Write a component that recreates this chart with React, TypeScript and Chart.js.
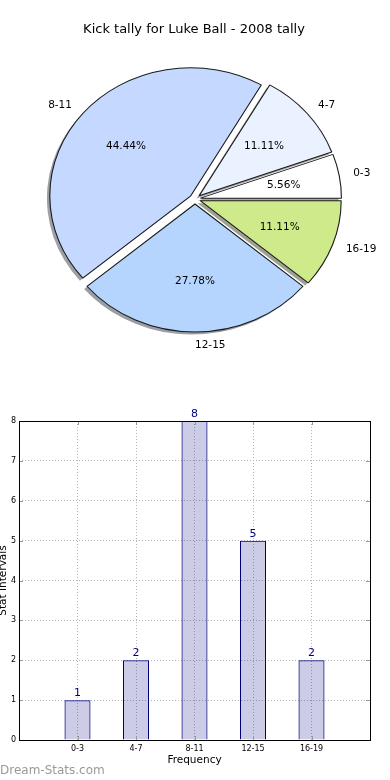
import React, { useEffect, useRef } from 'react';
import { Chart, registerables } from 'chart.js';

Chart.register(...registerables);

const TITLE = 'Kick tally for Luke Ball - 2008 tally';
const categories = ['0-3', '4-7', '8-11', '12-15', '16-19'];
const counts = [1, 2, 8, 5, 2];
const percentLabels = ['5.56%', '11.11%', '44.44%', '27.78%', '11.11%'];
const sliceColors = ['#ffffff', '#eaf1ff', '#c5d8ff', '#b5d5ff', '#cfea8b'];
const X_TITLE = 'Frequency';
const Y_TITLE = 'Stat Intervals';
const WATERMARK = 'Dream-Stats.com';
const Y_MIN = 0;
const Y_MAX = 8;

const FONT = "'DejaVu Sans', sans-serif";
const SX = 141 / 128;
const EXPLODE = 5;
const SHADOW = 2.6;

Chart.defaults.font.family = FONT;

function hexToRgb(h: string) {
  const n = parseInt(h.slice(1), 16);
  return { r: (n >> 16) & 255, g: (n >> 8) & 255, b: n & 255 };
}

function PieChart() {
  const ref = useRef<HTMLCanvasElement>(null);
  useEffect(() => {
    const order = categories.map((_, i) => categories.length - 1 - i);
    const plugin: any = {
      id: 'ellipsePie',
      afterDatasetsUpdate(chart: any) {
        chart.getDatasetMeta(0).data.forEach((el: any) => {
          const mid = (el.startAngle + el.endAngle) / 2;
          el.x += Math.cos(mid) * EXPLODE;
          el.y += Math.sin(mid) * EXPLODE;
        });
      },
      beforeDatasetsDraw(chart: any) {
        const ctx = chart.ctx;
        const a = chart.chartArea;
        const ox = (a.left + a.right) / 2;
        const oy = (a.top + a.bottom) / 2;
        ctx.save();
        ctx.translate(ox, oy);
        ctx.scale(SX, 1);
        ctx.translate(-ox, -oy);
        chart.getDatasetMeta(0).data.forEach((el: any, j: number) => {
          const c = hexToRgb(sliceColors[order[j]]);
          ctx.fillStyle = `rgba(${Math.round(c.r * 0.3)},${Math.round(c.g * 0.3)},${Math.round(c.b * 0.3)},0.5)`;
          ctx.beginPath();
          ctx.moveTo(el.x - SHADOW, el.y + SHADOW);
          ctx.arc(el.x - SHADOW, el.y + SHADOW, el.outerRadius, el.startAngle, el.endAngle);
          ctx.closePath();
          ctx.fill();
        });
      },
      afterDatasetsDraw(chart: any) {
        chart.ctx.restore();
      },
      afterDraw(chart: any) {
        const ctx = chart.ctx;
        const a = chart.chartArea;
        const ox = (a.left + a.right) / 2;
        ctx.save();
        ctx.fillStyle = '#000';
        ctx.font = `13px ${FONT}`;
        ctx.textAlign = 'center';
        ctx.textBaseline = 'middle';
        ctx.fillText(TITLE, 194, 30);
        ctx.font = `10.5px ${FONT}`;
        chart.getDatasetMeta(0).data.forEach((el: any, j: number) => {
          const idx = order[j];
          const mid = (el.startAngle + el.endAngle) / 2;
          const r = el.outerRadius;
          const cs = Math.cos(mid);
          const sn = Math.sin(mid);
          const lx = ox + (el.x + 1.1 * r * cs - ox) * SX;
          const ly = el.y + 1.1 * r * sn;
          ctx.textAlign = cs > 0 ? 'left' : 'right';
          ctx.fillText(categories[idx], lx, ly);
          const px = ox + (el.x + 0.6 * r * cs - ox) * SX;
          const py = el.y + 0.6 * r * sn;
          ctx.textAlign = 'center';
          ctx.fillText(percentLabels[idx], px, py);
        });
        ctx.restore();
      },
    };
    const chart = new Chart(ref.current as HTMLCanvasElement, {
      type: 'pie',
      data: {
        labels: order.map((i) => categories[i]),
        datasets: [
          {
            data: order.map((i) => counts[i]),
            backgroundColor: order.map((i) => sliceColors[i]),
            borderColor: '#1a1a1a',
            borderWidth: 1,
          },
        ],
      },
      options: {
        animation: false,
        responsive: false,
        rotation: 90,
        radius: 128,
        layout: { padding: { top: 60, bottom: 42, left: 0, right: 0 } },
        plugins: { legend: { display: false }, tooltip: { enabled: false }, title: { display: false } },
      } as any,
      plugins: [plugin],
    });
    return () => chart.destroy();
  }, []);
  return <canvas ref={ref} width={390} height={380} style={{ display: 'block', width: 390, height: 380 }} />;
}

function BarChart() {
  const ref = useRef<HTMLCanvasElement>(null);
  useEffect(() => {
    const labels = ['', ...categories, ''];
    const data = [null, ...counts, null];
    const plugin: any = {
      id: 'barDecor',
      afterDraw(chart: any) {
        const ctx = chart.ctx;
        const a = chart.chartArea;
        const xs = chart.scales.x;
        const ys = chart.scales.y;
        ctx.save();
        // inner tick marks
        ctx.strokeStyle = '#999';
        ctx.lineWidth = 1;
        ctx.beginPath();
        for (let v = Y_MIN + 1; v < Y_MAX; v++) {
          const y = Math.round(ys.getPixelForValue(v)) + 0.5;
          ctx.moveTo(a.left, y);
          ctx.lineTo(a.left + 4, y);
          ctx.moveTo(a.right, y);
          ctx.lineTo(a.right - 4, y);
        }
        for (let i = 1; i <= categories.length; i++) {
          const x = Math.round(xs.getPixelForValue(i)) + 0.5;
          ctx.moveTo(x, a.bottom);
          ctx.lineTo(x, a.bottom - 4);
          ctx.moveTo(x, a.top);
          ctx.lineTo(x, a.top + 4);
        }
        ctx.stroke();
        // frame
        ctx.strokeStyle = '#000';
        ctx.strokeRect(Math.round(a.left) + 0.5, Math.round(a.top) + 0.5, Math.round(a.right - a.left), Math.round(a.bottom - a.top));
        // value labels
        ctx.fillStyle = '#000080';
        ctx.font = `11px ${FONT}`;
        ctx.textAlign = 'center';
        ctx.textBaseline = 'alphabetic';
        chart.getDatasetMeta(0).data.forEach((bar: any, i: number) => {
          const v = data[i];
          if (v == null) return;
          ctx.fillText(String(v), bar.x, bar.y - 4);
        });
        // axis titles
        ctx.fillStyle = '#000';
        ctx.font = `10.5px ${FONT}`;
        ctx.textBaseline = 'middle';
        ctx.fillText(X_TITLE, (a.left + a.right) / 2, 380);
        ctx.save();
        ctx.translate(3.5, (a.top + a.bottom) / 2);
        ctx.rotate(-Math.PI / 2);
        ctx.fillText(Y_TITLE, 0, 0);
        ctx.restore();
        // watermark
        ctx.fillStyle = '#999';
        ctx.font = `12px ${FONT}`;
        ctx.textAlign = 'left';
        ctx.fillText(WATERMARK, 0, 391);
        ctx.restore();
      },
    };
    const chart = new Chart(ref.current as HTMLCanvasElement, {
      type: 'bar',
      data: {
        labels,
        datasets: [
          {
            data,
            backgroundColor: 'rgba(0,0,128,0.2)',
            borderColor: '#000080',
            borderWidth: 1,
            barPercentage: 0.445,
            categoryPercentage: 1,
          },
        ],
      },
      options: {
        animation: false,
        responsive: false,
        layout: { padding: { top: 41, right: 20, left: 0, bottom: 0 } },
        plugins: { legend: { display: false }, tooltip: { enabled: false } },
        scales: {
          x: {
            type: 'category',
            offset: false,
            grid: { color: '#b4b4b4', lineWidth: 1, drawTicks: false, offset: false },
            border: { display: false, dash: [1, 2] },
            ticks: { font: { size: 8 }, color: '#000', padding: 4, maxRotation: 0, autoSkip: false },
            afterFit: (s: any) => {
              s.height = 40;
            },
          },
          y: {
            min: Y_MIN,
            max: Y_MAX,
            grid: { color: '#b4b4b4', lineWidth: 1, drawTicks: false },
            border: { display: false, dash: [1, 2] },
            ticks: { stepSize: 1, font: { size: 8 }, color: '#000', padding: 3 },
            afterFit: (s: any) => {
              s.width = 19;
            },
          },
        },
      } as any,
      plugins: [plugin],
    });
    return () => chart.destroy();
  }, []);
  return <canvas ref={ref} width={390} height={400} style={{ display: 'block', width: 390, height: 400 }} />;
}

export default function App() {
  return (
    <div style={{ position: 'absolute', left: 0, top: 0, width: 390, height: 780, background: '#fff', overflow: 'hidden' }}>
      <PieChart />
      <BarChart />
    </div>
  );
}
